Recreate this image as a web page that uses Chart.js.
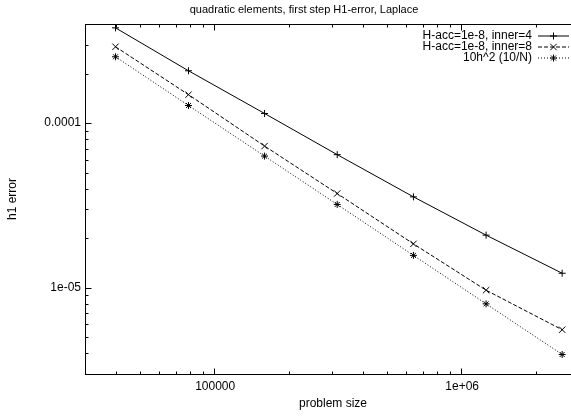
<!DOCTYPE html>
<html>
<head>
<meta charset="utf-8">
<script src="https://cdn.jsdelivr.net/npm/chart.js@4.4.1/dist/chart.umd.min.js"></script>
<style>
  html, body { margin: 0; padding: 0; background: #fff; overflow: hidden; }
  /* gnuplot output was cropped on the right, so the plot runs past the window */
  #wrap { width: 600px; height: 419px; }
</style>
</head>
<body>
<div id="wrap"><canvas id="myChart"></canvas></div>
<script>
'use strict';

// -------------------- data --------------------
const problemSize = [39500, 78000, 158500, 312000, 635000, 1250000, 2540000];
const errInner4 = [3.79e-4, 2.08e-4, 1.145e-4, 6.44e-5, 3.57e-5, 2.09e-5, 1.227e-5];
const errInner8 = [2.91e-4, 1.49e-4, 7.26e-5, 3.74e-5, 1.85e-5, 9.68e-6, 5.57e-6];
const ref10h2 = [2.53e-4, 1.28e-4, 6.31e-5, 3.21e-5, 1.575e-5, 8.0e-6, 3.94e-6];
const seriesNames = ['H-acc=1e-8, inner=4', 'H-acc=1e-8, inner=8', '10h^2 (10/N)'];
const xTickLabels = [[1e5, '100000'], [1e6, '1e+06']];
const yTickLabels = [[1e-4, '0.0001'], [1e-5, '1e-05']];
const chartTitle = 'quadratic elements, first step H1-error, Laplace';

// -------------------- Chart.js --------------------
{
  const FONT = '"Liberation Sans", Arial, Helvetica, sans-serif';
  Chart.defaults.font.family = FONT;
  Chart.defaults.font.size = 12;
  Chart.defaults.color = '#000';

  function toPoints(ys) {
    return problemSize.map((x, i) => ({x: x, y: ys[i]}));
  }

  function makeSet(label, ys, style, radius, dash) {
    return {
      label: label,
      data: toPoints(ys),
      showLine: true,
      borderColor: '#000',
      backgroundColor: '#000',
      borderWidth: 1,
      borderDash: dash,
      pointStyle: style,
      pointRadius: radius,
      pointBorderWidth: 1,
      pointBorderColor: '#000',
      tension: 0,
      fill: false,
    };
  }

  // 枠と内向きの目盛り、タイトル、凡例 (gnuplot風)
  const gnuplotFrame = {
    id: 'gnuplotFrame',
    afterDraw(chart) {
      const {ctx, chartArea: a, scales} = chart;
      const xs = scales.x, ys = scales.y;
      const L = a.left - 0.5, R = a.right + 0.5, T = a.top + 0.5, B = a.bottom + 0.5;

      ctx.save();
      ctx.strokeStyle = '#000';
      ctx.lineWidth = 1;
      ctx.setLineDash([]);
      ctx.strokeRect(L, T, R - L, B - T);

      ctx.beginPath();
      for (let d = 4; d <= 6; d++) {
        for (let m = 1; m <= 9; m++) {
          const v = m * Math.pow(10, d);
          if (v < xs.min || v > xs.max) continue;
          const px = Math.round(xs.getPixelForValue(v)) - 0.5;
          const len = m === 1 ? 6 : 3;
          ctx.moveTo(px, B); ctx.lineTo(px, B - len);
          ctx.moveTo(px, T); ctx.lineTo(px, T + len);
        }
      }
      for (let d = -6; d <= -4; d++) {
        for (let m = 1; m <= 9; m++) {
          const v = m * Math.pow(10, d);
          if (v < ys.min * 0.999 || v > ys.max * 1.001) continue;
          const py = Math.round(ys.getPixelForValue(v)) + 0.5;
          const len = m === 1 ? 6 : 3;
          ctx.moveTo(L, py); ctx.lineTo(L + len, py);
          ctx.moveTo(R, py); ctx.lineTo(R - len, py);
        }
      }
      ctx.stroke();

      // title
      ctx.fillStyle = '#000';
      ctx.font = '11px ' + FONT;
      ctx.textAlign = 'center';
      ctx.textBaseline = 'middle';
      ctx.fillText(chartTitle, 304, 10);

      // key
      ctx.font = '12px ' + FONT;
      chart.data.datasets.forEach((ds, i) => {
        const rowY = a.top + 11.5 + i * 11;
        ctx.textAlign = 'right';
        ctx.fillText(ds.label, a.right - 48, rowY);
        ctx.beginPath();
        ctx.setLineDash(ds.borderDash);
        ctx.moveTo(a.right - 42, rowY + 0.5);
        ctx.lineTo(a.right - 11, rowY + 0.5);
        ctx.stroke();
        ctx.setLineDash([]);
        Chart.helpers.drawPoint(ctx, {
          pointStyle: ds.pointStyle, radius: ds.pointRadius, rotation: 0, borderWidth: 1,
        }, a.right - 26.5, rowY + 0.5);
      });
      ctx.restore();
    }
  };

  const ctx = document.getElementById('myChart').getContext('2d');
  const myChart = new Chart(ctx, {
    type: 'scatter',
    data: {
      datasets: [
        makeSet(seriesNames[0], errInner4, 'cross', 3.5, []),
        makeSet(seriesNames[1], errInner8, 'crossRot', 4.5, [4, 2]),
        makeSet(seriesNames[2], ref10h2, 'star', 3.5, [1, 2]),
      ]
    },
    options: {
      responsive: true,
      maintainAspectRatio: false,
      animation: false,
      devicePixelRatio: 1,
      layout: { padding: { top: 24, right: 20, left: 0, bottom: 0 } },
      plugins: {
        legend: { display: false },
        tooltip: { enabled: false },
      },
      scales: {
        x: {
          type: 'logarithmic',
          min: 3e4,
          max: 3e6,
          grid: { display: false, drawTicks: false },
          border: { display: false },
          afterBuildTicks: s => { s.ticks = xTickLabels.map(t => ({value: t[0]})); },
          afterFit: s => { s.height = 45; },
          ticks: {
            autoSkip: false,
            maxRotation: 0,
            padding: 5,
            callback: v => (xTickLabels.find(t => t[0] === v) || [0, ''])[1],
          },
          title: { display: true, text: 'problem size', padding: { top: 0, bottom: 8 } },
        },
        y: {
          type: 'logarithmic',
          min: 3e-6,
          max: 4e-4,
          grid: { display: false, drawTicks: false },
          border: { display: false },
          afterBuildTicks: s => { s.ticks = yTickLabels.map(t => ({value: t[0]})); },
          afterFit: s => { s.width = 86; },
          ticks: {
            autoSkip: false,
            padding: 5,
            callback: v => (yTickLabels.find(t => t[0] === v) || [0, ''])[1],
          },
          title: { display: true, text: 'h1 error', padding: { top: 5, bottom: 0 } },
        }
      }
    },
    plugins: [gnuplotFrame]
  });
}
</script>
</body>
</html>
